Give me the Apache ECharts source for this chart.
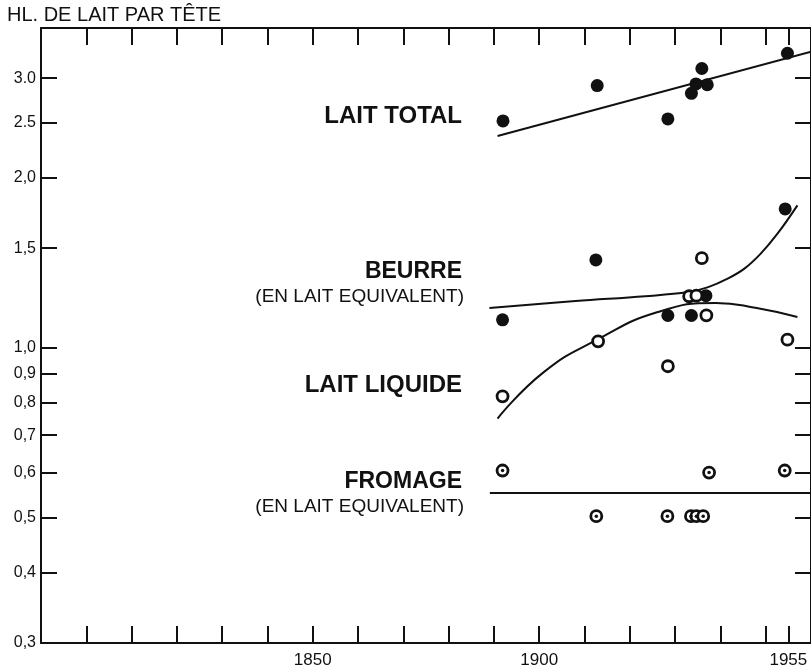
<!DOCTYPE html>
<html>
<head>
<meta charset="utf-8">
<script src="https://cdn.jsdelivr.net/npm/echarts@6/dist/echarts.min.js"></script>
<style>
html,body{margin:0;padding:0;background:#fff;}
#chart{width:811px;height:671px;}
</style>
</head>
<body>
<div id="chart"></div>
<script>
// ---- data (years, hl per head) ----
const yTickValues = [0.3, 0.4, 0.5, 0.6, 0.7, 0.8, 0.9, 1.0, 1.5, 2.0, 2.5, 3.0];
const yTickLabels = ['0,3', '0,4', '0,5', '0,6', '0,7', '0,8', '0,9', '1,0', '1,5', '2,0', '2.5', '3.0'];
const xTickYears = [1800, 1810, 1820, 1830, 1840, 1850, 1860, 1870, 1880, 1890, 1900, 1910, 1920, 1930, 1940, 1950, 1955];
const xLabelYears = [1850, 1900, 1955];

const laitTotalPoints = [[1892, 2.52], [1912.8, 2.91], [1928.4, 2.54], [1933.6, 2.82], [1934.6, 2.93], [1935.9, 3.12], [1937.1, 2.92], [1954.8, 3.32]];
const laitTotalTrend = [[1890.8, 2.37], [1960, 3.34]];

const beurrePoints = [[1891.9, 1.12], [1912.5, 1.43], [1928.4, 1.14], [1933.6, 1.14], [1936.8, 1.236], [1954.3, 1.76]];
const beurreTrend = [[1889, 1.175], [1908, 1.209], [1923.4, 1.233], [1932.9, 1.254], [1937.3, 1.28], [1941.6, 1.325], [1945.3, 1.38], [1948.9, 1.467], [1952.6, 1.591], [1957, 1.786]];

const laitLiquidePoints = [[1891.9, 0.82], [1913, 1.026], [1928.4, 0.927], [1933.1, 1.233], [1934.7, 1.236], [1935.9, 1.44], [1936.9, 1.141], [1954.8, 1.033]];
const laitLiquideTrend = [[1890.8, 0.749], [1901, 0.905], [1913, 1.035], [1926, 1.155], [1939, 1.2], [1948, 1.175], [1957, 1.133]];

const fromagePoints = [[1891.9, 0.606], [1912.6, 0.503], [1928.3, 0.503], [1933.5, 0.503], [1934.7, 0.503], [1936.2, 0.503], [1937.5, 0.601], [1954.2, 0.606]];
const fromageTrend = [[1889.1, 0.553], [1960, 0.553]];

// ---- chart ----
const lg = v => Math.log10(v);
const toLog = arr => arr.map(p => [p[0], lg(p[1])]);
const yMinVal = 0.3, yMaxVal = 3.68;
const ink = '#111';

const yLabelFmt = v => {
  const i = yTickValues.findIndex(t => Math.abs(lg(t) - v) < 1e-6);
  return i >= 0 ? yTickLabels[i] : '';
};

const chart = echarts.init(document.getElementById('chart'), null, {renderer: 'canvas'});

const lineStyle = {color: ink, width: 2};
const filledDot = {symbol: 'circle', symbolSize: 13, itemStyle: {color: ink, opacity: 1}};
const openDot = {symbol: 'circle', symbolSize: 11, itemStyle: {color: '#fff', borderColor: ink, borderWidth: 2.8, opacity: 1}};

const xAxisBase = pos => ({
  type: 'value', min: 1790, max: 1960, position: pos,
  axisLine: {show: true, onZero: false, lineStyle: {color: ink, width: 2}},
  axisTick: {show: true, inside: true, length: 17, customValues: xTickYears, lineStyle: {color: ink, width: 2}},
  splitLine: {show: false}
});
const yAxisBase = pos => ({
  type: 'value', min: lg(yMinVal), max: lg(yMaxVal), position: pos,
  axisLine: {show: true, onZero: false, lineStyle: {color: ink, width: 2}},
  axisTick: {show: true, inside: true, length: 16, customValues: yTickValues.map(lg), lineStyle: {color: ink, width: 2}},
  splitLine: {show: false}
});

chart.setOption({
  animation: false,
  backgroundColor: '#fff',
  grid: {left: 41, right: -5, top: 28, bottom: 28, containLabel: false},
  xAxis: [
    Object.assign(xAxisBase('bottom'), {
      axisLabel: {show: true, customValues: xLabelYears, margin: 9, color: ink, fontSize: 17, fontFamily: 'Liberation Sans', formatter: v => String(v)}
    }),
    Object.assign(xAxisBase('top'), {axisLabel: {show: false}})
  ],
  yAxis: [
    Object.assign(yAxisBase('left'), {
      axisLabel: {show: true, customValues: yTickValues.map(lg), margin: 5, color: ink, fontSize: 16, fontFamily: 'Liberation Sans', formatter: yLabelFmt}
    }),
    Object.assign(yAxisBase('right'), {axisLabel: {show: false}})
  ],
  series: [
    {name: 'Lait total (tendance)', type: 'line', data: toLog(laitTotalTrend), symbol: 'none', lineStyle: lineStyle, z: 2},
    {name: 'Beurre (tendance)', type: 'line', data: toLog(beurreTrend), smooth: 0.4, symbol: 'none', lineStyle: lineStyle, z: 2},
    {name: 'Lait liquide (tendance)', type: 'line', data: toLog(laitLiquideTrend), smooth: 0.5, symbol: 'none', lineStyle: lineStyle, z: 2},
    {name: 'Fromage (tendance)', type: 'line', data: toLog(fromageTrend), symbol: 'none', lineStyle: lineStyle, z: 2},
    Object.assign({name: 'Lait total', type: 'scatter', data: toLog(laitTotalPoints), z: 5}, filledDot),
    Object.assign({name: 'Beurre', type: 'scatter', data: toLog(beurrePoints), z: 5}, filledDot),
    Object.assign({name: 'Lait liquide', type: 'scatter', data: toLog(laitLiquidePoints), z: 5}, openDot),
    Object.assign({name: 'Fromage', type: 'scatter', data: toLog(fromagePoints), z: 5}, openDot),
    {name: 'Fromage (centre)', type: 'scatter', data: toLog(fromagePoints), symbol: 'circle', symbolSize: 3.5, itemStyle: {color: ink, opacity: 1}, z: 6}
  ],
  graphic: [
    {type: 'text', x: 7, y: 15, style: {text: 'HL. DE LAIT PAR TÊTE', font: '20px "Liberation Sans"', fill: ink, textAlign: 'left', textVerticalAlign: 'middle'}},
    {type: 'text', x: 462, y: 116, style: {text: 'LAIT TOTAL', font: 'bold 24px "Liberation Sans"', fill: ink, textAlign: 'right', textVerticalAlign: 'middle'}},
    {type: 'text', x: 462, y: 272, style: {text: 'BEURRE', font: 'bold 23px "Liberation Sans"', fill: ink, textAlign: 'right', textVerticalAlign: 'middle'}},
    {type: 'text', x: 464, y: 297, style: {text: '(EN LAIT EQUIVALENT)', font: '19px "Liberation Sans"', fill: ink, textAlign: 'right', textVerticalAlign: 'middle'}},
    {type: 'text', x: 462, y: 385, style: {text: 'LAIT LIQUIDE', font: 'bold 24px "Liberation Sans"', fill: ink, textAlign: 'right', textVerticalAlign: 'middle'}},
    {type: 'text', x: 462, y: 482, style: {text: 'FROMAGE', font: 'bold 23px "Liberation Sans"', fill: ink, textAlign: 'right', textVerticalAlign: 'middle'}},
    {type: 'text', x: 464, y: 507, style: {text: '(EN LAIT EQUIVALENT)', font: '19px "Liberation Sans"', fill: ink, textAlign: 'right', textVerticalAlign: 'middle'}}
  ]
});
</script>
</body>
</html>
